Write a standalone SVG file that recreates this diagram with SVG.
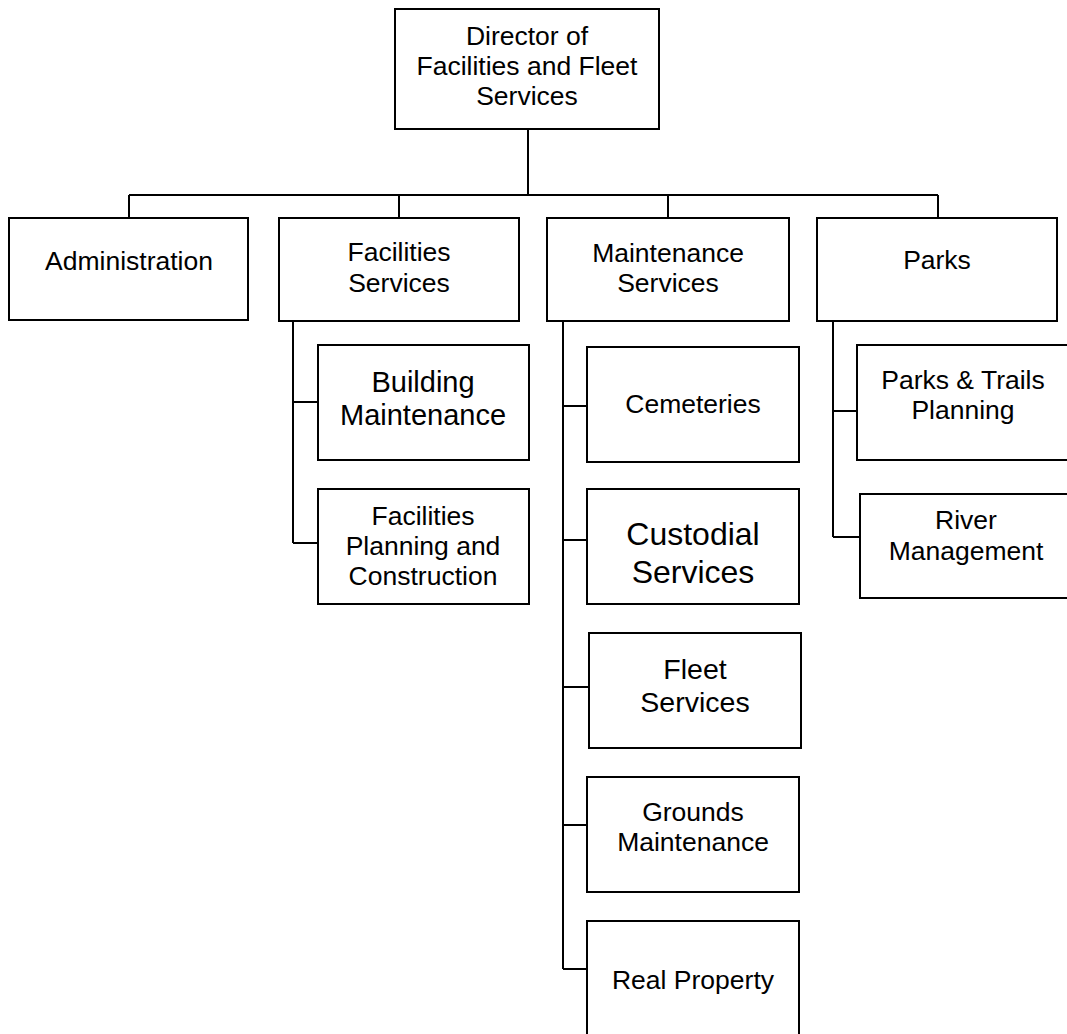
<svg xmlns="http://www.w3.org/2000/svg" width="1067" height="1034" viewBox="0 0 1067 1034">
<style>
.box{fill:#fff;stroke:#000;stroke-width:2}
.ln{fill:none;stroke:#000;stroke-width:2}
text{font-family:"Liberation Sans",Arial,sans-serif;font-size:26.5px;fill:#000;text-anchor:middle}
</style>
<rect width="1067" height="1034" fill="#fff"/>
<g id="connectors">
<path class="ln" d="M528 129V195M129 195H938M129 195V218M399 195V218M668 195V218M938 195V218"/>
<path class="ln" d="M293 321V543M293 402H318M293 543H318"/>
<path class="ln" d="M563 321V969M563 406H587M563 540H587M563 687H589M563 825H587M563 969H587"/>
<path class="ln" d="M833 321V537M833 411H857M833 537H860"/>
</g>
<g id="director"><rect class="box" x="395" y="9" width="264" height="120"/><text x="527" y="45">Director of</text><text x="527" y="75">Facilities and Fleet</text><text x="527" y="105">Services</text></g>
<g id="administration"><rect class="box" x="9" y="218" width="239" height="102"/><text x="129" y="270">Administration</text></g>
<g id="facilities-services"><rect class="box" x="279" y="218" width="240" height="103"/><text x="399" y="261">Facilities</text><text x="399" y="292">Services</text></g>
<g id="maintenance-services"><rect class="box" x="547" y="218" width="242" height="103"/><text x="668" y="262">Maintenance</text><text x="668" y="292">Services</text></g>
<g id="parks"><rect class="box" x="817" y="218" width="240" height="103"/><text x="937" y="269">Parks</text></g>
<g id="building-maintenance"><rect class="box" x="318" y="345" width="211" height="115"/><text x="423" y="392" style="font-size:29px">Building</text><text x="423" y="425" style="font-size:29px">Maintenance</text></g>
<g id="facilities-planning"><rect class="box" x="318" y="489" width="211" height="115"/><text x="423" y="525">Facilities</text><text x="423" y="555">Planning and</text><text x="423" y="585">Construction</text></g>
<g id="cemeteries"><rect class="box" x="587" y="347" width="212" height="115"/><text x="693" y="413">Cemeteries</text></g>
<g id="custodial-services"><rect class="box" x="587" y="489" width="212" height="115"/><text x="693" y="545" style="font-size:32px">Custodial</text><text x="693" y="583" style="font-size:32px">Services</text></g>
<g id="fleet-services"><rect class="box" x="589" y="633" width="212" height="115"/><text x="695" y="679" style="font-size:28.5px">Fleet</text><text x="695" y="712" style="font-size:28.5px">Services</text></g>
<g id="grounds-maintenance"><rect class="box" x="587" y="777" width="212" height="115"/><text x="693" y="821">Grounds</text><text x="693" y="851">Maintenance</text></g>
<g id="real-property"><rect class="box" x="587" y="921" width="212" height="130"/><text x="693" y="989">Real Property</text></g>
<g id="parks-trails-planning"><rect class="box" x="857" y="345" width="212" height="115"/><text x="963" y="389">Parks &amp; Trails</text><text x="963" y="419">Planning</text></g>
<g id="river-management"><rect class="box" x="860" y="494" width="212" height="104"/><text x="966" y="529">River</text><text x="966" y="560">Management</text></g>
</svg>
